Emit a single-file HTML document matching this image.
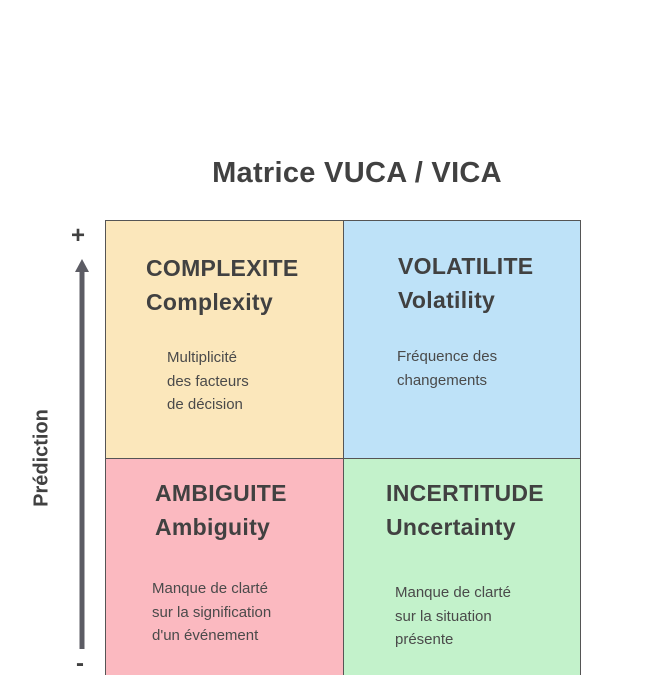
<!DOCTYPE html>
<html style="width:645px;height:675px;overflow:hidden"><head><meta charset="utf-8"><style>
body{margin:0;width:645px;height:675px;overflow:hidden;background:#fff;font-family:"Liberation Sans",sans-serif;color:#414141;position:relative}
.a{position:absolute;white-space:nowrap}
.q{position:absolute;box-sizing:border-box;border:1px solid #555}
.h{font-weight:bold;font-size:23px;line-height:34px;letter-spacing:0.3px}
.t{font-size:15px;line-height:23.5px;color:#4a4a4a}
</style></head><body>
<div class="a" style="left:0;width:714px;text-align:center;top:157px;font-size:29px;font-weight:bold;letter-spacing:0.3px">Matrice VUCA / VICA</div>
<div class="q" style="left:105px;top:220px;width:239px;height:239px;background:#fbe7bb"></div>
<div class="q" style="left:343px;top:220px;width:238px;height:239px;background:#bee2f8"></div>
<div class="q" style="left:105px;top:458px;width:239px;height:230px;background:#fbb9c0"></div>
<div class="q" style="left:343px;top:458px;width:238px;height:230px;background:#c3f2cb"></div>
<div class="a h" style="left:146px;top:251px">COMPLEXITE<br>Complexity</div>
<div class="a t" style="left:167px;top:346px">Multiplicité<br>des facteurs<br>de décision</div>
<div class="a h" style="left:398px;top:249px">VOLATILITE<br>Volatility</div>
<div class="a t" style="left:397px;top:345px">Fréquence des<br>changements</div>
<div class="a h" style="left:155px;top:476px">AMBIGUITE<br>Ambiguity</div>
<div class="a t" style="left:152px;top:577px">Manque de clarté<br>sur la signification<br>d'un événement</div>
<div class="a h" style="left:386px;top:476px">INCERTITUDE<br>Uncertainty</div>
<div class="a t" style="left:395px;top:581px">Manque de clarté<br>sur la situation<br>présente</div>
<div class="a" style="left:71px;top:222px;font-size:24px;font-weight:bold">+</div>
<div class="a" style="left:76px;top:650px;font-size:24px;font-weight:bold">-</div>
<svg class="a" style="left:0;top:0" width="645" height="675"><rect x="79.5" y="270" width="5" height="379" fill="#5c5c64"/><polygon points="82,259 75,272 89,272" fill="#5c5c64"/></svg>
<div class="a" style="left:42px;top:458px;transform:translate(-50%,-50%) rotate(-90deg);font-size:20px;font-weight:bold">Prédiction</div>
</body></html>
